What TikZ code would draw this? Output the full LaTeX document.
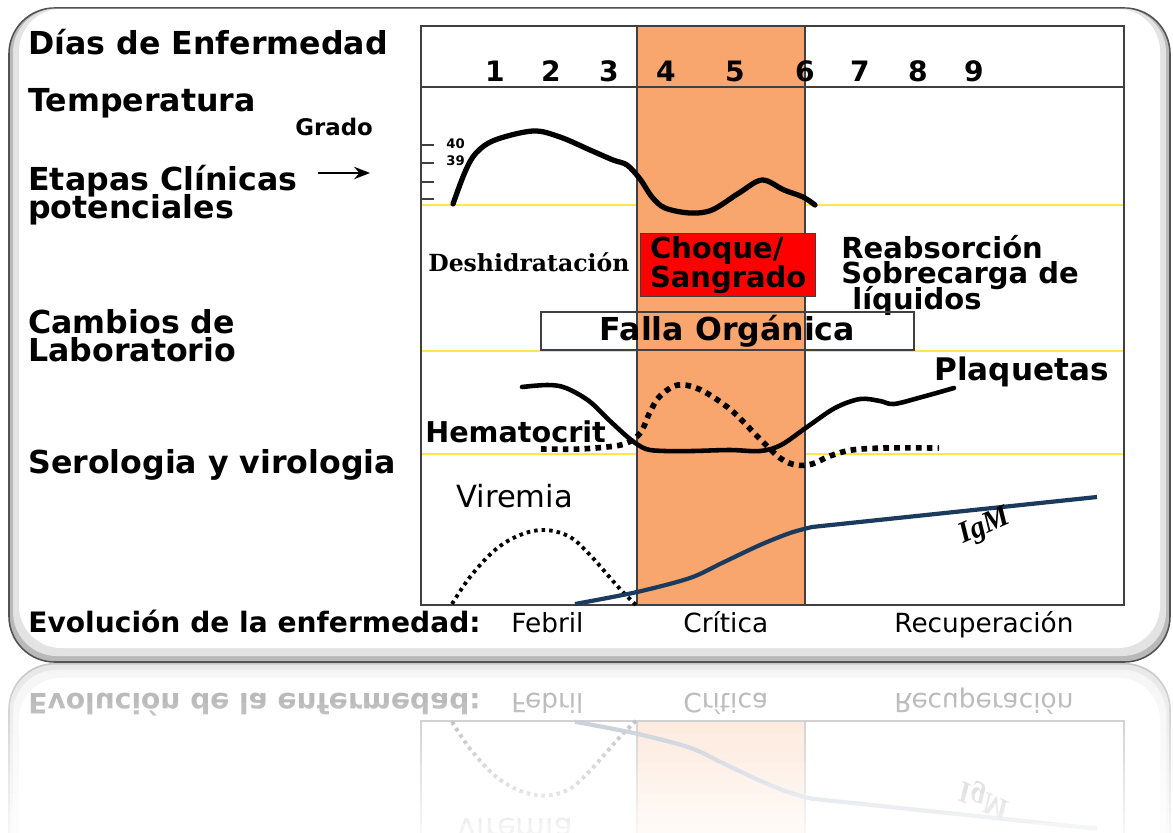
\documentclass[tikz,border=0pt]{standalone}
\usepackage{fontspec}
\setmainfont{DejaVu Sans}
\newfontfamily\dvserif{DejaVu Serif}
\newfontfamily\libserif{Liberation Serif}
\usetikzlibrary{arrows.meta}
\definecolor{bandorange}{HTML}{F9A56E}
\definecolor{igmnavy}{HTML}{1B3B5E}
\definecolor{ylw}{HTML}{FFE64A}
\definecolor{linegray}{HTML}{404040}
\tikzset{
  lbl/.style={anchor=base west, inner sep=0pt, font=\bfseries\fontsize{18}{20}\selectfont},
  daynum/.style={anchor=base, inner sep=0pt, font=\bfseries\fontsize{16}{18}\selectfont},
  evo/.style={anchor=base west, inner sep=0pt, font=\fontsize{15}{17}\selectfont},
  midlbl/.style={anchor=base west, inner sep=0pt, font=\bfseries\fontsize{16.5}{18}\selectfont},
  curve/.style={line width=2.6pt, line cap=round, line join=round},
  dotcurve/.style={line width=3.2pt, dash pattern=on 3.2pt off 3pt},
  vircurve/.style={line width=2.2pt, dash pattern=on 2pt off 2.3pt},
  ylwline/.style={ylw, line width=0.8pt},
  boxline/.style={linegray, line width=0.9pt}
}
% frame of the slide
\newcommand\slideframe{%
  \fill[gray!55, rounded corners=26] (9,8) rectangle (1170,662);
  \draw[gray!65!black, line width=0.9pt, rounded corners=26] (9,8) rectangle (1170,662);
  \fill[gray!22, rounded corners=25] (13,8.5) rectangle (1166,656);
  \fill[white, rounded corners=24] (19,9) rectangle (1160,648);
}
% lower part of the slide (also mirrored in the reflection)
\newcommand\slidelower{%
  \fill[white] (421,26) rectangle (1124,605);
  \draw[ylwline] (421,205) -- (1124,205);
  \draw[ylwline] (421,351) -- (1124,351);
  \draw[ylwline] (421,454) -- (1124,454);
  \fill[bandorange] (637,26) rectangle (805,605);
  \draw[boxline] (637,26) -- (637,605);
  \draw[boxline] (805,26) -- (805,605);
  \draw[boxline] (421,26) rectangle (1124,605);
  \node[anchor=base west, inner sep=0pt, font=\bfseries\fontsize{16}{18}\selectfont] (evol) at (28,632) {Evolución de la enfermedad:};
  \node[evo] (febril) at (511,632) {Febril};
  \node[evo] (critica) at (683,632) {Crítica};
  \node[evo] (recup) at (894,632) {Recuperación};
  \node[anchor=base west, inner sep=0pt, font=\fontsize{17.4}{19}\selectfont] (virem) at (456,507) {Viremia};
  \draw[vircurve] plot[smooth, tension=0.6] coordinates {(452,604) (470,577) (495,550) (520,535) (545,530) (570,537) (590,555) (606,573) (621,590) (636,605)};
  \draw[igmnavy, line width=2.4pt, line join=round] plot[smooth, tension=0.5] coordinates {(575,604) (637,592) (690,578) (722,563) (760,545) (790,533) (812,527)} -- (1097,497);
  \node[rotate=24, inner sep=0pt, font=\libserif\bfseries\itshape\fontsize{17}{18}\selectfont] (igm) at (985,527) {IgM};
}
% upper part of the slide
\newcommand\slideupper{%
  \draw[boxline] (421,87) -- (1124,87);
  \foreach \ty in {145,163,182,199} { \draw[linegray, line width=0.9pt] (421,\ty) -- (434,\ty); }
  \node[anchor=base west, inner sep=0pt, font=\bfseries\fontsize{7.5}{8}\selectfont] (t40) at (446,148) {40};
  \node[anchor=base west, inner sep=0pt, font=\bfseries\fontsize{7.5}{8}\selectfont] (t39) at (446,165) {39};
  \node[lbl] (dias) at (28,54) {Días de Enfermedad};
  \node[lbl] (temp) at (28,111) {Temperatura};
  \node[anchor=base west, inner sep=0pt, font=\bfseries\fontsize{13}{15}\selectfont] (grado) at (295,135) {Grado};
  \node[lbl] (etapas1) at (28,190) {Etapas Clínicas};
  \node[lbl] (etapas2) at (28,218) {potenciales};
  \coordinate (arrA) at (318,173);
  \coordinate (arrB) at (370,173);
  \draw[line width=1.3pt, -{Stealth[length=9pt,width=7pt]}] (arrA) -- (arrB);
  \node[lbl] (camb1) at (28,333) {Cambios de};
  \node[lbl] (camb2) at (28,361) {Laboratorio};
  \node[lbl] (sero) at (28,473) {Serologia y virologia};
  \node[daynum] (d1) at (495,81) {1};
  \node[daynum] (d2) at (551,81) {2};
  \node[daynum] (d3) at (609,81) {3};
  \node[daynum] (d4) at (666,81) {4};
  \node[daynum] (d5) at (735,81) {5};
  \node[daynum] (d6) at (805,81) {6};
  \node[daynum] (d7) at (860,81) {7};
  \node[daynum] (d8) at (918,81) {8};
  \node[daynum] (d9) at (974,81) {9};
  \draw[curve, line width=3pt] plot[smooth, tension=0.55] coordinates {(453,204) (465,172) (476,153) (495,140) (533,131) (560,137) (590,150) (613,160) (627,165) (640,179) (652,197) (665,208) (690,213) (712,210) (739,193) (762,180) (784,190) (803,197) (815,205)};
  \node[anchor=base west, inner sep=0pt, font=\dvserif\bfseries\fontsize{13.4}{15}\selectfont] (deshid) at (428,271) {Deshidratación};
  \node[draw=linegray, line width=0.8pt, fill=red, anchor=north west, minimum width=3.5cm, minimum height=1.26cm, inner sep=0pt, align=left, font=\bfseries\fontsize{16.5}{14.5}\selectfont] (choque) at (640,233) {Choque/\\Sangrado};
  \node[midlbl] (reab) at (841,258) {Reabsorción};
  \node[midlbl] (sobre) at (841,283) {Sobrecarga de};
  \node[midlbl] (liq) at (852,309) {líquidos};
  \node[draw=linegray, line width=0.9pt, minimum width=7.46cm, minimum height=0.76cm, inner sep=0pt, font=\bfseries\fontsize{18}{20}\selectfont] (falla) at (727.5,331) {Falla Orgánica};
  \node[anchor=base west, inner sep=0pt, font=\bfseries\fontsize{17.7}{20}\selectfont] (plaq) at (934,380) {Plaquetas};
  \node[anchor=base west, inner sep=0pt, font=\bfseries\fontsize{16.3}{18}\selectfont] (hemat) at (425,442) {Hematocrit};
  \draw[curve] plot[smooth, tension=0.55] coordinates {(522,387) (548,385) (566,388) (589,401) (610,421) (630,439) (646,449) (665,451) (693,451) (730,450) (760,451) (781,445) (807,427) (835,408) (860,399) (880,401) (894,404) (922,397) (954,388)};
  \draw[dotcurve] plot[smooth, tension=0.55] coordinates {(541,449) (580,449) (615,446) (629,442) (641,432) (650,412) (660,396) (678,385) (701,390) (731,410) (758,437) (780,458) (796,465) (812,464) (830,456) (852,450) (885,448) (939,448)};
}
\begin{document}
\begin{tikzpicture}[x=0.02cm,y=-0.02cm]
\useasboundingbox (0,0) rectangle (1173,832);
\fill[white] (0,0) rectangle (1173,832);
% reflection below the slide
\begin{scope}
  \clip (0,663) rectangle (1173,832);
  \begin{scope}[yshift=-26.52cm, yscale=-1, transform shape]
    \slideframe
    \slidelower
  \end{scope}
\end{scope}
\foreach \i [evaluate=\i as \op using 0.68+0.017*\i] in {0,...,16} {
  \fill[white, opacity=\op] (0,663+10*\i) rectangle (1173,673+10*\i);
}
% the slide
\slideframe
\slidelower
\slideupper
\end{tikzpicture}
\end{document}
